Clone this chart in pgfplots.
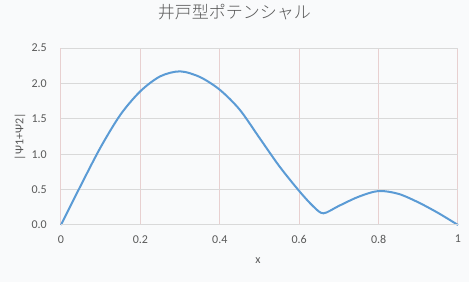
\documentclass[border=0pt]{standalone}
\usepackage{pgfplots}
\pgfplotsset{compat=1.18}
\usepackage{fontspec}
\setmainfont{Carlito}
\newfontfamily\jp{Noto Sans CJK JP Light}
\definecolor{bg}{HTML}{F9FAFB}
\definecolor{txt}{HTML}{595959}
\definecolor{hgrid}{HTML}{D9D9D9}
\definecolor{vgrid}{RGB}{232,208,208}
\definecolor{line}{HTML}{5B9BD5}
\begin{document}
\begin{tikzpicture}
\path[use as bounding box, fill=bg] (-45.75pt,-42.75pt) rectangle (306pt,168.75pt);
\begin{axis}[
  at={(0pt,0pt)}, anchor=south west,
  scale only axis, width=297.75pt, height=132.75pt,
  xmin=0, xmax=1, ymin=0, ymax=2.5,
  xtick={0,0.2,0.4,0.6,0.8,1},
  ytick={0,0.5,1,1.5,2,2.5},
  major tick length=0pt,
  axis line style={draw=none},
  grid=major,
  x grid style={vgrid, line width=0.75pt},
  y grid style={hgrid, line width=0.75pt},
  /pgf/number format/assume math mode=true,
  yticklabel={\pgfmathprintnumber[fixed,fixed zerofill,precision=1]{\tick}},
  tick label style={font=\fontsize{9}{10}\selectfont, text=txt},
  yticklabel style={anchor=east, inner sep=0pt, xshift=-10.5pt},
  xticklabel style={anchor=north, inner sep=0pt, yshift=-7.5pt},
  xlabel={x},
  ylabel={|Ψ1+Ψ2|},
  label style={font=\fontsize{9}{10}\selectfont, text=txt},
  xlabel style={at={(axis description cs:0.496,0)}, anchor=center, yshift=-27pt},
  ylabel style={at={(axis description cs:0,0.5)}, anchor=center, rotate=0, yshift=30.75pt},
  title={\jp 井戸型ポテンシャル},
  title style={at={(axis description cs:0.437,1.158)}, anchor=center, font=\fontsize{12.75}{15}\selectfont, text=txt},
  clip=false,
]
\addplot[line, line width=1.5pt, smooth] coordinates {
(0,0) (0.05,0.56) (0.1,1.10) (0.15,1.56) (0.2,1.89) (0.25,2.10) (0.3,2.17)
(0.35,2.09) (0.4,1.91) (0.45,1.63) (0.5,1.23) (0.55,0.83) (0.6,0.48)
(0.636,0.26) (0.661,0.165) (0.7,0.27) (0.75,0.40) (0.8,0.48) (0.85,0.44)
(0.9,0.32) (0.95,0.17) (1,0)
};
\end{axis}
\draw[hgrid, line width=0.75pt] (0pt,0pt) -- (297.75pt,0pt);
\end{tikzpicture}
\end{document}
